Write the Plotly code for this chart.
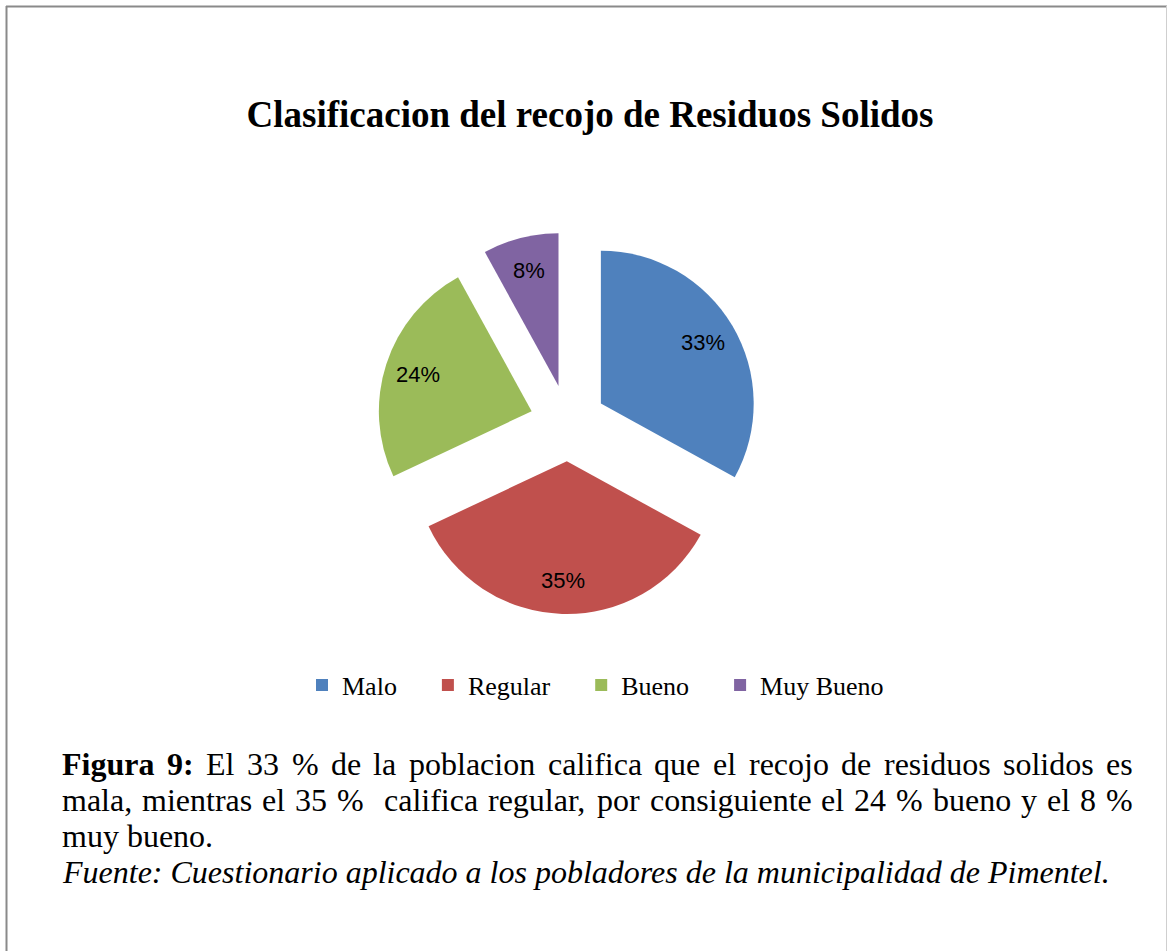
import math
import plotly.graph_objects as go

W, H = 1168, 951

categories = ["Malo", "Regular", "Bueno", "Muy Bueno"]
values = [33, 35, 24, 8]
colors = ["#4F81BD", "#C0504D", "#9BBB59", "#8064A2"]

title_text = "Clasificacion del recojo de Residuos Solidos"
caption_line1 = "Figura 9: El 33 % de la poblacion califica que el recojo de residuos solidos es"
caption_line2 = "mala, mientras el 35 %  califica regular, por consiguiente el 24 % bueno y el 8 %"
caption_line3 = "muy bueno."
caption_line4 = "Fuente: Cuestionario aplicado a los pobladores de la municipalidad de Pimentel."
bold_words = 2  # "Figura 9:" is bold


def px(x):
    return x / W


def py(y):
    return 1 - y / H


# Times (Liberation Serif) advance widths, per em, for justification
TR = {" ": .25, ",": .25, ".": .25, ":": .278, "%": .833, "E": .611, "F": .556, "P": .556,
      "a": .444, "b": .5, "c": .444, "d": .5, "e": .444, "f": .333, "g": .5, "h": .5,
      "i": .278, "j": .278, "k": .5, "l": .278, "m": .778, "n": .5, "o": .5, "p": .5,
      "q": .5, "r": .333, "s": .389, "t": .278, "u": .5, "v": .5, "w": .722, "x": .5,
      "y": .5, "z": .444}
TB = dict(TR)
TB.update({"F": .611, "u": .556, "r": .444, "a": .5, ":": .333})


def word_w(word, bold, size):
    table = TB if bold else TR
    return sum(table.get(ch, .5) for ch in word) * size


# pie geometry (in pixels)
cx, cy, half = 568, 423, 191
pull = 0.25
r = half / (1 + pull)

fig = go.Figure(
    go.Pie(
        labels=categories,
        values=values,
        sort=False,
        direction="clockwise",
        rotation=0,
        pull=[pull] * len(values),
        marker=dict(colors=colors, line=dict(width=0)),
        textinfo="none",
        domain=dict(x=[px(cx - half), px(cx + half)], y=[py(cy + half), py(cy - half)]),
        hoverinfo="label+percent",
    )
)

annotations = []

# percentage labels, placed along each slice's mid-angle (derived from the values)
total = sum(values)
cum = 0
for v in values:
    mid = (cum + v / 2) / total * 2 * math.pi
    cum += v
    d = r * (pull + 0.78)
    lx = cx + d * math.sin(mid)
    ly = cy - d * math.cos(mid)
    annotations.append(dict(
        text=f"{round(v / total * 100)}%", x=px(lx), y=py(ly), xref="paper", yref="paper",
        xanchor="center", yanchor="middle", showarrow=False,
        font=dict(family="Liberation Sans", size=22, color="#000000"),
    ))

# caption (justified lines built word by word)
cap_size = 32
left, right = 62, 1133


def justified(line, yy, n_bold=0):
    words = line.split(" ")
    # empty strings arise from double spaces: they count as extra gaps
    real = [(i, w) for i, w in enumerate(words) if w]
    widths = [word_w(w, i < n_bold, cap_size) for i, w in real]
    gaps = len(words) - 1
    gap = (right - left - sum(widths)) / gaps
    x = left
    idx = 0
    for k, w in enumerate(words):
        if w:
            bold = k < n_bold
            annotations.append(dict(
                text=f"<b>{w}</b>" if bold else w, x=px(x - 1), y=py(yy), xref="paper", yref="paper",
                xanchor="left", yanchor="middle", showarrow=False, borderpad=0,
                font=dict(family="Liberation Serif", size=cap_size, color="#000000"),
            ))
            x += widths[idx]
            idx += 1
        x += gap


justified(caption_line1, 764, bold_words)
justified(caption_line2, 800)
for line, yy in [(caption_line3, 836), ("<i>" + caption_line4 + "</i>", 872)]:
    annotations.append(dict(
        text=line, x=px(61), y=py(yy), xref="paper", yref="paper",
        xanchor="left", yanchor="middle", showarrow=False, borderpad=0,
        font=dict(family="Liberation Serif", size=cap_size, color="#000000"),
    ))

shapes = [
    dict(type="line", xref="paper", yref="paper", x0=px(6), x1=px(1167), y0=py(6.5), y1=py(6.5),
         line=dict(color="#8a8a8a", width=2)),
    dict(type="line", xref="paper", yref="paper", x0=px(6.5), x1=px(6.5), y0=py(6), y1=0,
         line=dict(color="#8a8a8a", width=2)),
    dict(type="line", xref="paper", yref="paper", x0=px(1166.5), x1=px(1166.5), y0=py(6), y1=0,
         line=dict(color="#cfcfcf", width=1)),
]

fig.update_layout(
    width=W,
    height=H,
    margin=dict(l=0, r=0, t=0, b=0),
    paper_bgcolor="white",
    plot_bgcolor="white",
    title=dict(
        text="<b>" + title_text + "</b>",
        x=px(590),
        y=py(114),
        xanchor="center",
        yanchor="middle",
        xref="paper",
        yref="paper",
        font=dict(family="Liberation Serif", size=37, color="#000000"),
    ),
    showlegend=True,
    legend=dict(
        orientation="h",
        x=px(302),
        y=py(685),
        xanchor="left",
        yanchor="middle",
        font=dict(family="Liberation Serif", size=26, color="#000000"),
        bgcolor="rgba(0,0,0,0)",
        entrywidthmode="pixels",
    ),
    annotations=annotations,
    shapes=shapes,
)

# widen legend entries like the original (trailing non-breaking spaces)
fig.data[0].labels = [c + "\u00a0" * 4 for c in categories]

fig.write_html(
    "out.html",
    config={"displayModeBar": False},
    post_script="document.body.style.margin='0';document.body.style.overflow='hidden';",
)
